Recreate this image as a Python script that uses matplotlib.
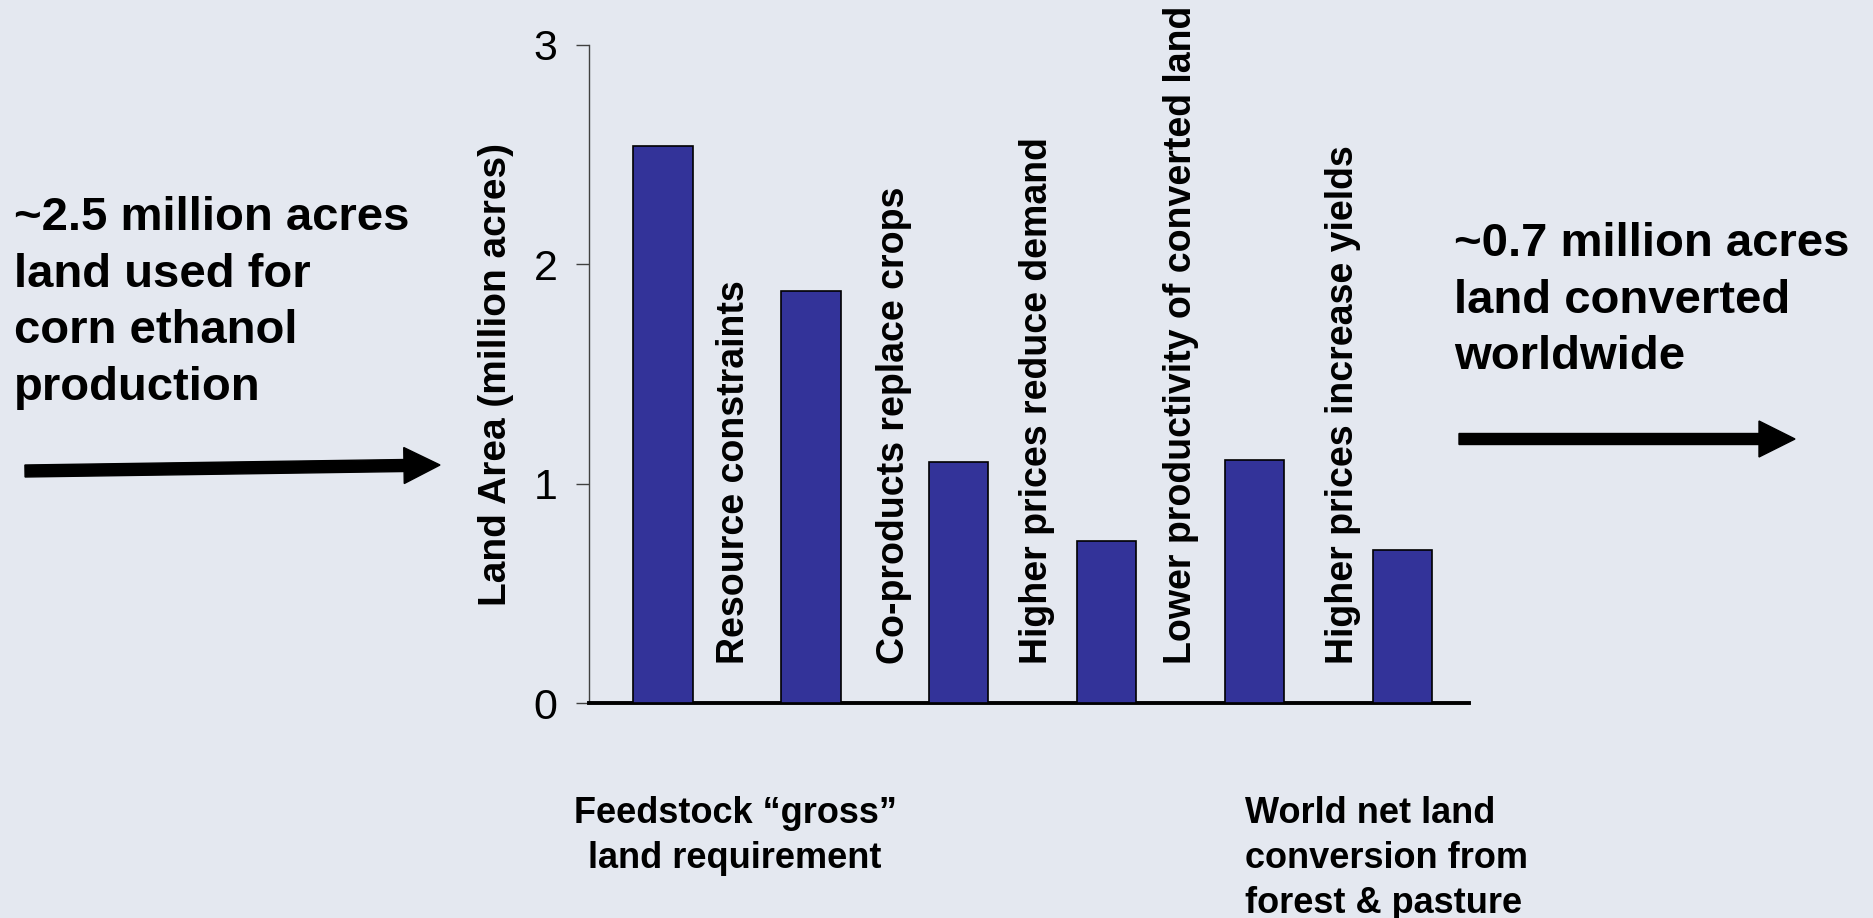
import matplotlib
matplotlib.use("Agg")
import matplotlib.pyplot as plt
from matplotlib.patches import FancyArrow

plt.rcParams['font.family'] = ['Liberation Sans', 'DejaVu Sans']

# bar heights, million acres
steps = ["gross", "constraints", "co-products", "demand", "productivity", "net"]
land_area = [2.54, 1.88, 1.10, 0.74, 1.11, 0.70]

# adjustment labels drawn between the bars
step_labels = [
    "Resource constraints",
    "Co-products replace crops",
    "Higher prices reduce demand",
    "Lower productivity of converted land",
    "Higher prices increase yields",
]
label_shift = [-0.02, 0.06, 0.03, 0.0, 0.1]
y_ticks = [0, 1, 2, 3]

BG = "#E4E8F0"
BAR = "#333399"

fig = plt.figure(figsize=(18.73, 9.18), dpi=100, facecolor=BG)
ax = fig.add_axes([0.3143, 0.2337, 0.470, 0.7173])
ax.set_facecolor(BG)

x = list(range(len(land_area)))
ax.bar(x, land_area, width=0.40, color=BAR, edgecolor="black", linewidth=1.2, zorder=3)

for i, lab in enumerate(step_labels):
    ax.text(i + 0.5 + label_shift[i], 0.18, lab, rotation=90, ha="center", va="bottom",
            fontsize=27, fontweight="bold")

ax.set_xlim(-0.503, 5.45)
ax.set_ylim(0, 3)
ax.set_xticks([])
ax.set_yticks(y_ticks)
ax.set_yticklabels([str(t) for t in y_ticks], fontsize=31)
ax.tick_params(axis="y", length=9.4, width=1, color="#404040", pad=13)
for s in ("top", "right"):
    ax.spines[s].set_visible(False)
ax.spines["left"].set_color("#404040")
ax.spines["left"].set_linewidth(1)
ax.spines["bottom"].set_color("black")
ax.spines["bottom"].set_linewidth(2.8)
ax.set_ylabel("Land Area (million acres)", fontsize=28, fontweight="bold", labelpad=14)

# overlay in pixel units for the side notes and arrows
ov = fig.add_axes([0, 0, 1, 1])
ov.set_xlim(0, 1873)
ov.set_ylim(918, 0)
ov.axis("off")
ov.patch.set_alpha(0)

ov.text(14, 196, "~2.5 million acres\nland used for\ncorn ethanol\nproduction",
        fontsize=34, fontweight="bold", va="top", ha="left", linespacing=1.37)
ov.text(1454, 222, "~0.7 million acres\nland converted\nworldwide",
        fontsize=34, fontweight="bold", va="top", ha="left", linespacing=1.37)

ov.add_patch(FancyArrow(25, 471, 415, -6, width=12, head_width=36, head_length=36,
                        length_includes_head=True, color="black"))
ov.add_patch(FancyArrow(1459, 439, 336, 0, width=11, head_width=36, head_length=36,
                        length_includes_head=True, color="black"))

ov.text(735, 796, "Feedstock \u201cgross\u201d\nland requirement", fontsize=26,
        fontweight="bold", va="top", ha="center", multialignment="center", linespacing=1.37)
ov.text(1245, 796, "World net land\nconversion from\nforest & pasture", fontsize=26,
        fontweight="bold", va="top", ha="left", linespacing=1.37)

fig.savefig("out.png", dpi=100, facecolor=BG)
